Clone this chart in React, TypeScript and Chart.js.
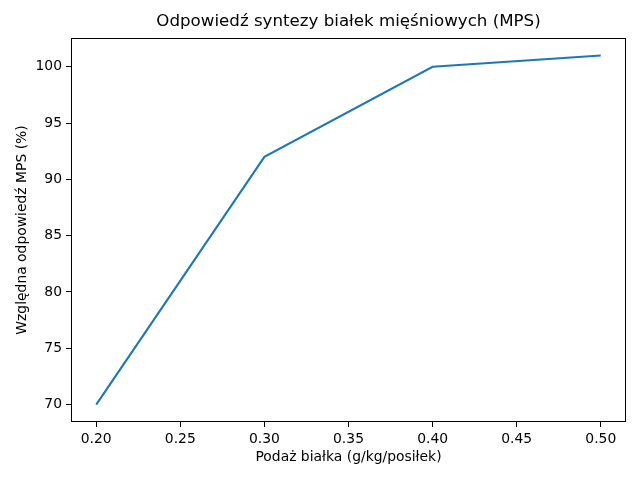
import { Chart, registerables } from "chart.js";
import { useEffect, useRef } from "react";

Chart.register(...registerables);

const proteinDose = [0.2, 0.3, 0.4, 0.5];
const mpsResponse = [70, 92, 100, 101];
const xTicks = [0.2, 0.25, 0.3, 0.35, 0.4, 0.45, 0.5];
const yTicks = [70, 75, 80, 85, 90, 95, 100];

const chartTitle = "Odpowiedź syntezy białek mięśniowych (MPS)";
const xLabel = "Podaż białka (g/kg/posiłek)";
const yLabel = "Względna odpowiedź MPS (%)";

const FONT = "DejaVu Sans";
const TICK_SIZE = 13.9;

// matplotlib-style box around the plot area
const framePlugin = {
  id: "frame",
  afterDatasetsDraw(chart: any) {
    const { ctx, chartArea: a } = chart;
    ctx.save();
    ctx.strokeStyle = "#000";
    ctx.lineWidth = 1;
    const l = Math.round(a.left) + 0.5;
    const t = Math.round(a.top) + 0.5;
    const r = Math.round(a.right) - 0.5;
    const b = Math.round(a.bottom) - 0.5;
    ctx.strokeRect(l, t, r - l, b - t);
    ctx.restore();
  },
};

const App = () => {
  const canvasRef = useRef<HTMLCanvasElement | null>(null);
  const chartRef = useRef<Chart | null>(null);

  useEffect(() => {
    if (!canvasRef.current) return;
    Chart.defaults.font.family = FONT;
    Chart.defaults.color = "#000";

    chartRef.current = new Chart(canvasRef.current, {
      type: "line",
      data: {
        datasets: [
          {
            data: proteinDose.map((x, i) => ({ x, y: mpsResponse[i] })),
            borderColor: "#1f77b4",
            borderWidth: 2.1,
            pointRadius: 0,
            tension: 0,
            fill: false,
          },
        ],
      },
      options: {
        responsive: false,
        animation: false,
        layout: { padding: { left: 0, right: 14, top: 0, bottom: 0 } },
        plugins: {
          legend: { display: false },
          tooltip: { enabled: false },
          title: {
            display: true,
            fullSize: false,
            text: chartTitle,
            color: "#000",
            font: { family: FONT, size: 16.67, weight: "normal", lineHeight: 1.2 },
            padding: { top: 12, bottom: 6 },
          },
        },
        scales: {
          x: {
            type: "linear",
            min: 0.185,
            max: 0.515,
            afterBuildTicks: (s: any) => {
              s.ticks = xTicks.map((v) => ({ value: v }));
            },
            afterFit: (s: any) => {
              s.height = 58;
            },
            ticks: {
              color: "#000",
              font: { family: FONT, size: TICK_SIZE },
              padding: 4,
              maxRotation: 0,
              callback: (v: any) => Number(v).toFixed(2),
            },
            grid: {
              drawOnChartArea: false,
              tickLength: 5,
              tickColor: "#000",
              tickWidth: 1,
            },
            border: { display: false },
            title: {
              display: true,
              text: xLabel,
              color: "#000",
              font: { family: FONT, size: TICK_SIZE, lineHeight: 1.2 },
              padding: { top: 0, bottom: 14.7 },
            },
          },
          y: {
            type: "linear",
            min: 68.45,
            max: 102.55,
            afterBuildTicks: (s: any) => {
              s.ticks = yTicks.map((v) => ({ value: v }));
            },
            afterFit: (s: any) => {
              s.width = 71;
            },
            ticks: {
              color: "#000",
              font: { family: FONT, size: TICK_SIZE },
              padding: 4,
              callback: (v: any) => String(v),
            },
            grid: {
              drawOnChartArea: false,
              tickLength: 5,
              tickColor: "#000",
              tickWidth: 1,
            },
            border: { display: false },
            title: {
              display: true,
              text: yLabel,
              color: "#000",
              font: { family: FONT, size: TICK_SIZE, lineHeight: 1.2 },
              padding: { top: 13.7, bottom: 0 },
            },
          },
        },
      },
      plugins: [framePlugin],
    });

    return () => {
      if (chartRef.current) {
        chartRef.current.destroy();
        chartRef.current = null;
      }
    };
  }, []);

  return (
    <div style={{ position: "fixed", left: 0, top: 0, width: 640, height: 480, background: "#fff" }}>
      <canvas ref={canvasRef} width={640} height={480} style={{ display: "block" }} />
    </div>
  );
};

export default App;
